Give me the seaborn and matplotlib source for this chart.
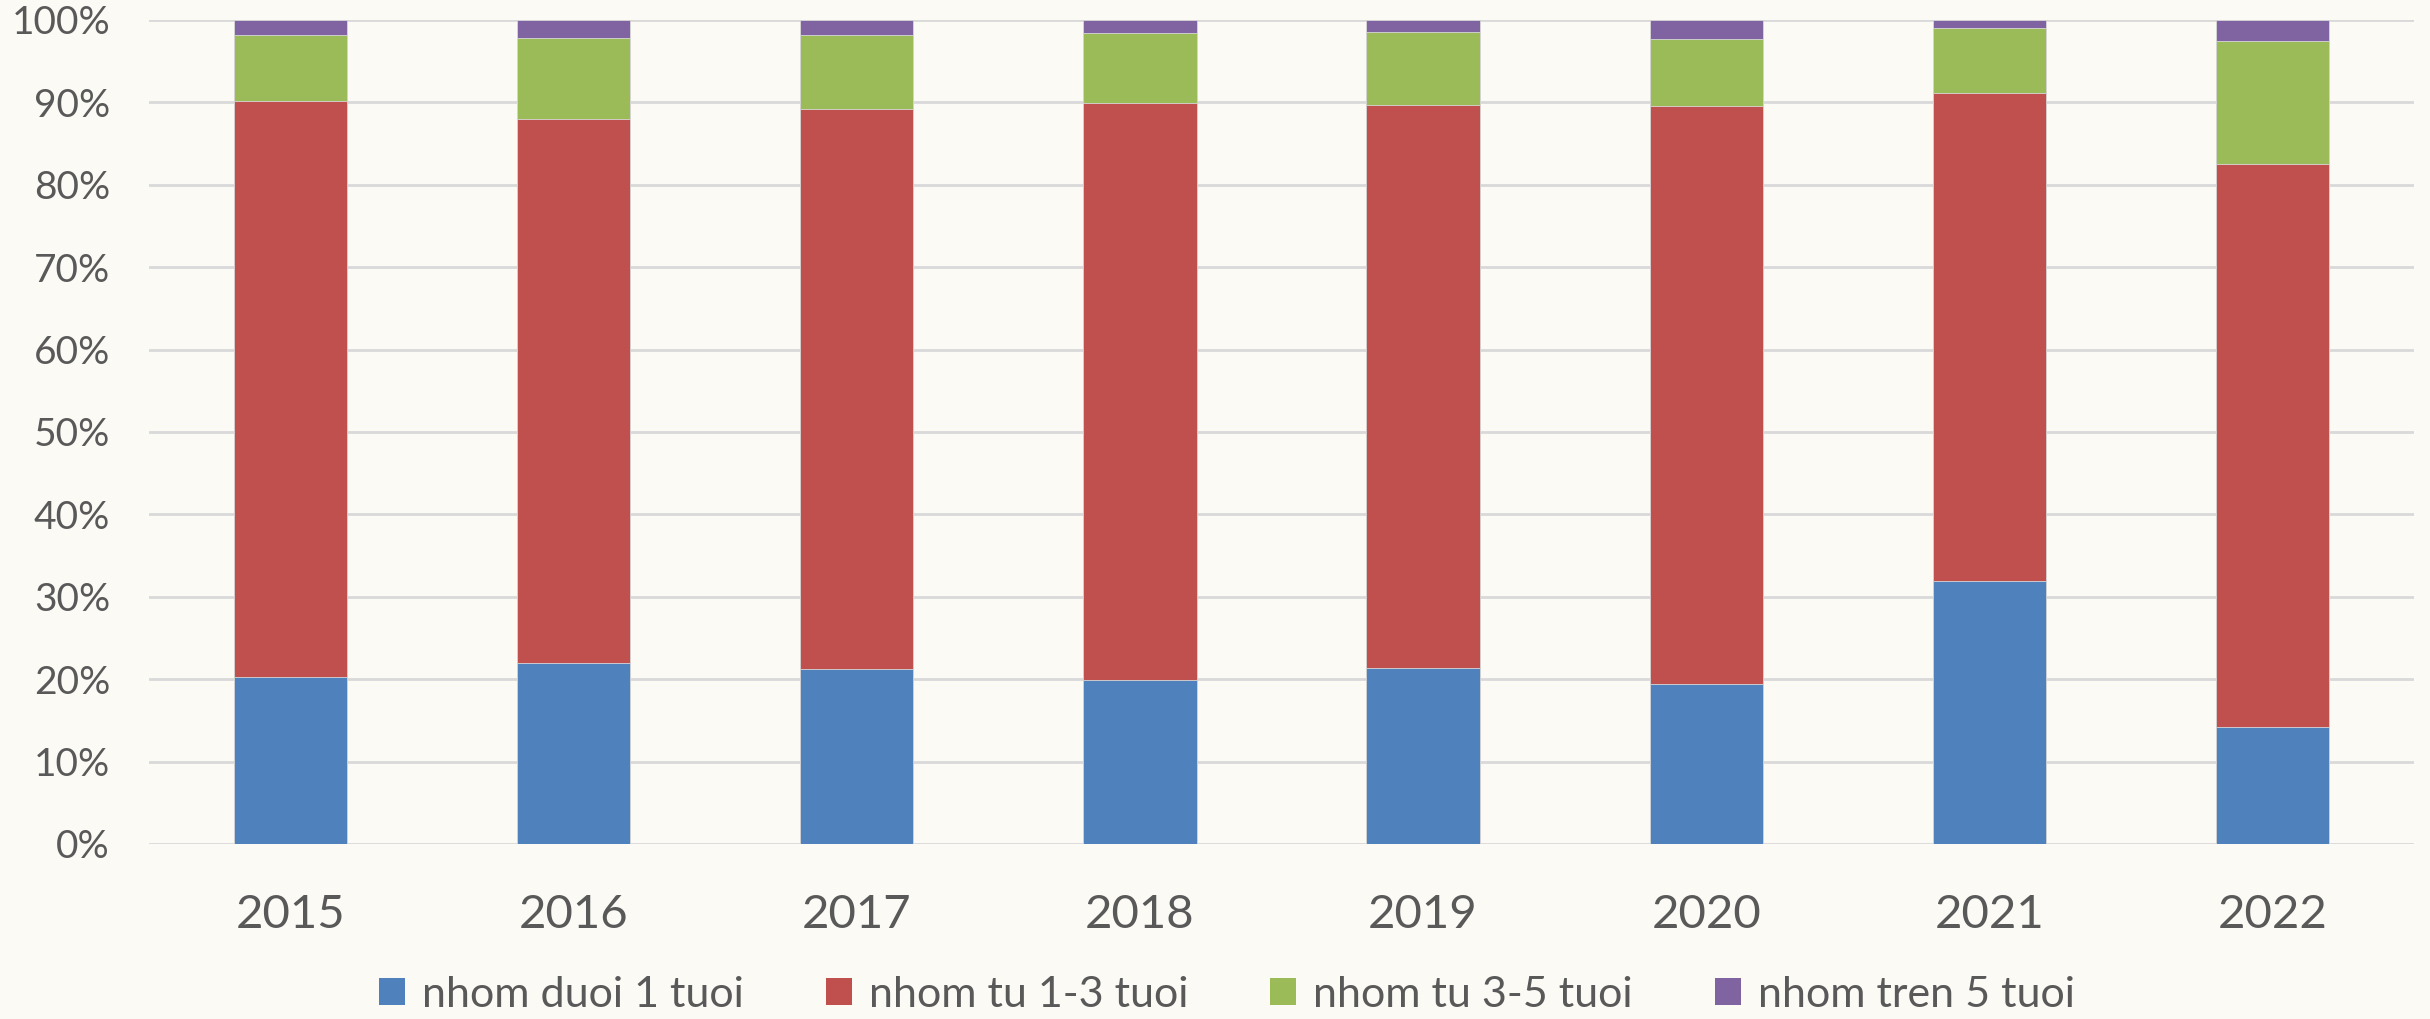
import matplotlib
matplotlib.use("Agg")
import matplotlib.pyplot as plt
import seaborn as sns
import pandas as pd
from matplotlib.ticker import FuncFormatter
from matplotlib.patches import Patch

years = ["2015", "2016", "2017", "2018", "2019", "2020", "2021", "2022"]
under1 = [20.3, 22.0, 21.2, 19.9, 21.3, 19.4, 31.9, 14.2]
age1_3 = [69.9, 66.0, 68.05, 70.0, 68.4, 70.2, 59.2, 68.3]
age3_5 = [8.0, 9.8, 8.95, 8.5, 8.9, 8.05, 7.9, 14.95]
over5 = [1.8, 2.2, 1.8, 1.6, 1.4, 2.35, 1.0, 2.55]

series_names = ["nhom duoi 1 tuoi", "nhom tu 1-3 tuoi", "nhom tu 3-5 tuoi", "nhom tren 5 tuoi"]
colors = ["#4F81BD", "#C0504D", "#9BBB59", "#8064A2"]

sns.set_theme(style="white")
plt.rcParams['font.family'] = ['Lato', 'DejaVu Sans']

bg = "#FCFAF5"
fig = plt.figure(figsize=(24.3, 10.19), dpi=100, facecolor=bg)
ax = fig.add_axes([149/2430, 1-844/1019, (2414-149)/2430, (844-20)/1019])
ax.set_facecolor(bg)

series = [under1, age1_3, age3_5, over5]
cum = []
run = [0.0]*len(years)
for s in series:
    run = [a+b for a, b in zip(run, s)]
    cum.append(list(run))

for i in reversed(range(4)):
    df = pd.DataFrame({"year": years, "val": cum[i]})
    sns.barplot(data=df, x="year", y="val", color=colors[i], saturation=1,
                width=0.4, ax=ax, edgecolor="#D8D8D8", linewidth=0.6, zorder=3)

ax.set_ylim(0, 100)
ax.set_xlim(-0.5, 7.5)
ax.set_yticks(range(0, 101, 10))
ax.yaxis.set_major_formatter(FuncFormatter(lambda v, p: f"{v:.0f}%"))
ax.grid(axis="y", color="#D9D9D9", linewidth=2, zorder=0)
ax.set_axisbelow(True)
for sp in ax.spines.values():
    sp.set_visible(False)
ax.set_xlabel("")
ax.set_ylabel("")
ax.tick_params(axis="y", labelsize=28, colors="#595959", length=0, pad=28)
ax.tick_params(axis="x", labelsize=34, colors="#595959", length=0, pad=36)

handles = [Patch(facecolor=c, edgecolor="none") for c in colors]
fig.legend(handles, series_names, loc="center", bbox_to_anchor=(0.505, 1-995/1019),
           ncol=4, frameon=False, fontsize=31, labelcolor="#595959",
           handlelength=0.6, handleheight=0.6, handletextpad=0.4, columnspacing=1.9)

fig.savefig("out.png", dpi=100, facecolor=bg)
